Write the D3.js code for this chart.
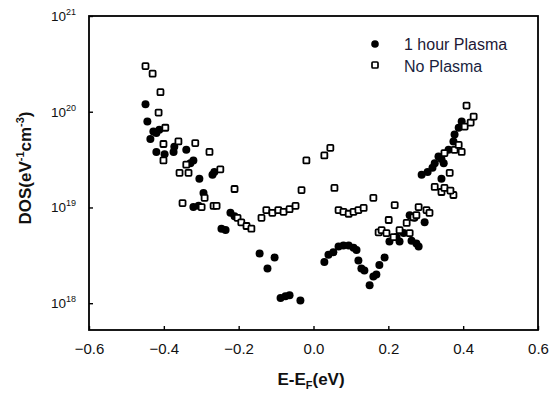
<!DOCTYPE html>
<html>
<head>
<meta charset="utf-8">
<script src="https://cdn.jsdelivr.net/npm/d3@7"></script>
<style>
  html, body { margin: 0; padding: 0; background: #fff; }
  svg { display: block; font-family: Arial, "Liberation Sans", sans-serif; }
</style>
</head>
<body>
<svg id="chart" width="559" height="398"></svg>
<script>
// ---- data ----
const plasmaE = [-0.449,-0.444,-0.428,-0.436,-0.420,-0.412,-0.420,-0.398,-0.374,-0.372,-0.340,-0.321,-0.329,-0.305,-0.270,-0.265,-0.294,-0.321,-0.307,-0.222,-0.211,-0.246,-0.235,-0.144,-0.104,-0.123,-0.088,-0.075,-0.064,-0.035,
  0.029,0.040,0.053,0.067,0.080,0.094,0.107,0.115,0.120,0.128,0.136,0.150,0.160,0.168,0.176,0.190,0.203,0.222,0.230,0.241,0.257,0.270,0.297,0.275,0.281,0.262,
  0.289,0.305,0.318,0.342,0.334,0.342,0.324,0.348,0.361,0.374,0.377,0.388,0.396];
const plasmaDOS = [1.2e20,7.9e19,6.2e19,5.2e19,6.0e19,6.5e19,3.8e19,3.6e19,3.8e19,4.3e19,4.0e19,3.1e19,2.9e19,2.0e19,2.2e19,2.35e19,1.42e19,1.01e19,1.04e19,8.8e18,8.1e18,6.0e18,5.8e18,3.3e18,3.0e18,2.3e18,1.13e18,1.18e18,1.21e18,1.07e18,
  2.7e18,3.2e18,3.4e18,3.9e18,4.0e18,4.0e18,3.8e18,3.6e18,2.8e18,2.3e18,2.2e18,1.54e18,1.9e18,2.0e18,2.5e18,3.0e18,4.4e18,4.9e18,4.4e18,5.4e18,8.3e18,7.8e18,7.0e18,4.2e18,3.9e18,4.5e18,
  2.2e19,2.35e19,2.6e19,2.0e19,3.4e19,3.2e19,2.9e19,2.9e19,4.0e19,4.9e19,5.8e19,6.8e19,7.9e19];

const noPlasmaE = [-0.449,-0.430,-0.409,-0.414,-0.396,-0.401,-0.401,-0.361,-0.358,-0.334,-0.340,-0.316,-0.278,-0.249,-0.211,-0.350,-0.291,-0.299,-0.267,-0.259,
  -0.203,-0.193,-0.179,-0.166,-0.139,-0.126,-0.110,-0.094,-0.080,-0.064,-0.048,-0.032,-0.019,0.029,0.045,0.056,
  0.067,0.080,0.094,0.107,0.120,0.134,0.160,0.217,0.201,0.174,0.182,0.195,0.230,0.249,0.267,0.281,0.302,0.310,0.275,0.214,0.257,
  0.324,0.342,0.350,0.374,0.366,0.364,0.350,0.377,0.396,0.388,0.404,0.420,0.428,0.409];
const noPlasmaDOS = [3.0e20,2.5e20,1.6e20,9.8e19,6.8e19,4.6e19,3.1e19,4.9e19,2.3e19,2.3e19,2.8e19,4.7e19,3.8e19,2.5e19,1.56e19,1.11e19,1.26e19,1.01e19,1.04e19,1.04e19,
  7.8e18,7.0e18,6.4e18,6.0e18,7.8e18,9.4e18,8.8e18,9.4e18,9.0e18,9.6e18,1.04e19,1.52e19,3.1e19,3.5e19,4.2e19,1.6e19,
  9.4e18,9.0e18,8.6e18,9.0e18,9.4e18,9.9e18,1.26e19,1.06e19,7.4e18,5.5e18,5.8e18,5.4e18,5.8e18,6.9e18,7.9e18,1.01e19,9.4e18,8.8e18,8.3e18,4.9e18,5.4e18,
  1.64e19,1.45e19,1.6e19,1.35e19,1.5e19,2.3e19,3.7e19,4.0e19,3.8e19,4.5e19,7.0e19,7.7e19,8.9e19,1.16e20];

const xTicks = [-0.6,-0.4,-0.2,0.0,0.2,0.4,0.6];
const yTickExponents = [18,19,20,21];
const seriesNames = ["1 hour Plasma","No Plasma"];

// ---- layout ----
const svg = d3.select("#chart");
const L = 89, R = 538, T = 16, B = 330;
const x = d3.scaleLinear().domain([-0.6,0.6]).range([L,R]);
const y = d3.scaleLog().domain([Math.pow(10,17.72), 1e21]).range([B,T]);

// x axis
const xAxis = d3.axisBottom(x).tickValues(xTicks).tickSize(-4).tickPadding(13)
  .tickFormat(d3.format(".1f"));
const gx = svg.append("g").attr("transform",`translate(0,${B})`).call(xAxis);
gx.select(".domain").remove();
gx.selectAll(".tick line").attr("stroke","#000").attr("stroke-width",1.4);
gx.selectAll(".tick text").attr("font-size",15).attr("fill","#111")
  .attr("font-family","Arial, 'Liberation Sans', sans-serif");

// y axis
const yAxis = d3.axisLeft(y).tickValues(yTickExponents.map(e=>Math.pow(10,e))).tickSize(-4).tickFormat("");
const gy = svg.append("g").attr("transform",`translate(${L},0)`).call(yAxis);
gy.select(".domain").remove();
gy.selectAll(".tick line").attr("stroke","#000").attr("stroke-width",1.4);
yTickExponents.forEach(e => {
  const t = svg.append("text").attr("x",76).attr("y",y(Math.pow(10,e))+5)
    .attr("text-anchor","end").attr("fill","#111").attr("font-size",13.5);
  t.append("tspan").text("10");
  t.append("tspan").attr("font-size",9).attr("dy",-6).text(String(e));
});

// frame
svg.append("rect").attr("x",L).attr("y",T).attr("width",R-L).attr("height",B-T)
  .attr("fill","none").attr("stroke","#000").attr("stroke-width",1.8);

// data
const open = d3.zip(noPlasmaE,noPlasmaDOS);
const filled = d3.zip(plasmaE,plasmaDOS);
const sq = 6;
svg.append("g").selectAll("circle").data(filled).join("circle")
  .attr("cx",d=>x(d[0])).attr("cy",d=>y(d[1])).attr("r",4).attr("fill","#000");
svg.append("g").selectAll("rect").data(open).join("rect")
  .attr("x",d=>x(d[0])-sq/2).attr("y",d=>y(d[1])-sq/2).attr("width",sq).attr("height",sq)
  .attr("rx",1).attr("fill","#fff").attr("stroke","#000").attr("stroke-width",1.8);

// legend
const lg = svg.append("g");
lg.append("circle").attr("cx",375).attr("cy",44).attr("r",3.8).attr("fill","#000");
lg.append("rect").attr("x",375-sq/2).attr("y",65-sq/2).attr("width",sq).attr("height",sq).attr("rx",1)
  .attr("fill","#fff").attr("stroke","#000").attr("stroke-width",1.7);
lg.append("text").attr("x",404).attr("y",50).attr("font-size",16).attr("fill","#1d1836").text(seriesNames[0]);
lg.append("text").attr("x",404).attr("y",72).attr("font-size",16).attr("fill","#1a1f40").text(seriesNames[1]);

// axis titles
const xt = svg.append("text").attr("x",311).attr("y",385).attr("text-anchor","middle")
  .attr("font-size",17).attr("font-weight","bold").attr("fill","#111");
xt.append("tspan").text("E-E");
xt.append("tspan").attr("font-size",11).attr("dy",4).text("F");
xt.append("tspan").attr("dy",-4).text("(eV)");

const yt = svg.append("text").attr("transform","translate(31,168) rotate(-90)").attr("text-anchor","middle")
  .attr("font-size",17).attr("font-weight","bold").attr("fill","#111");
yt.append("tspan").text("DOS(eV");
yt.append("tspan").attr("font-size",11).attr("dy",-7).text("-1");
yt.append("tspan").attr("dy",7).text("cm");
yt.append("tspan").attr("font-size",11).attr("dy",-7).text("-3");
yt.append("tspan").attr("dy",7).text(")");
</script>
</body>
</html>
